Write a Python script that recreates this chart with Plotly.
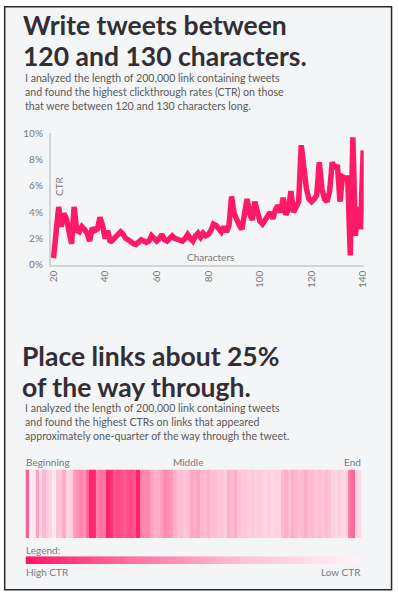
import plotly.graph_objects as go

W, H = 399, 598

# ---------------- data ----------------
characters = list(range(20, 141))
ctr_pct = [0.5, 2.5, 4.4, 2.9, 3.9, 3.5, 2.4, 1.6, 4.4, 2.6,
           2.5, 2.9, 2.7, 2.4, 1.8, 2.8, 2.6, 2.7, 3.6, 3.0,
           2.0, 2.6, 1.7, 1.9, 2.0, 2.3, 2.5, 2.3, 2.0, 1.9,
           1.7, 1.6, 1.55, 1.8, 1.9, 1.8, 1.7, 1.8, 2.2, 2.0,
           1.8, 2.0, 2.3, 1.9, 1.8, 2.0, 2.2, 2.0, 1.9, 1.8,
           1.8, 2.0, 2.3, 2.0, 1.8, 2.2, 2.4, 2.1, 2.4, 2.2,
           2.3, 2.6, 3.1, 3.0, 2.8, 2.5, 2.9, 2.5, 3.0, 5.2,
           3.9, 3.3, 3.0, 2.7, 3.8, 5.0, 3.9, 3.4, 4.8, 3.8,
           3.3, 3.1, 3.4, 3.8, 4.0, 3.5, 4.2, 4.5, 4.0, 5.1,
           3.8, 4.2, 5.6, 4.0, 4.5, 4.8, 9.1, 7.0, 5.8, 5.0,
           4.8, 5.0, 5.3, 7.8, 5.8, 5.0, 4.8, 5.6, 7.8, 7.3,
           7.6, 4.8, 6.7, 6.6, 6.6, 0.7, 9.7, 2.2, 4.4, 2.7,
           8.7]
x_ticks = [20, 40, 60, 80, 100, 120, 140]
y_ticks = [0, 2, 4, 6, 8, 10]
y_tick_labels = ["0%", "2%", "4%", "6%", "8%", "10%"]

# relative CTR by link position (0 = beginning ... 99 = end)
link_ctr = [75, 5, 10, 50, 20, 40, 28, 22, 8, 35,
            30, 45, 22, 28, 50, 55, 60, 55, 72, 95,
            92, 62, 68, 65, 95, 90, 78, 82, 80, 76,
            80, 82, 78, 95, 62, 58, 60, 48, 42, 45,
            50, 58, 55, 52, 42, 34, 38, 32, 36, 46,
            44, 48, 40, 38, 42, 36, 38, 30, 34, 28,
            42, 38, 44, 34, 30, 32, 27, 30, 25, 28,
            24, 22, 26, 20, 24, 22, 40, 42, 37, 44,
            40, 36, 39, 42, 37, 40, 35, 38, 33, 38,
            34, 24, 22, 26, 20, 24, 65, 72, 22, 20]
legend_levels = [100, 0]

PINK = "#ff1a66"
BG = "#f4f5f7"
DARK = "#322e34"
GREY = "#5a5a5a"
LIGHT = "#7a7a7a"
colorscale = [[0, "#fff5f8"], [0.35, "#ffc2d6"], [0.7, "#ff6d9e"], [1, "#ff1463"]]


def X(px):
    return px / W


def Y(py):
    return 1 - py / H


fig = go.Figure()

fig.add_trace(go.Scatter(
    x=characters, y=ctr_pct, mode="lines",
    line=dict(color=PINK, width=5.5), xaxis="x", yaxis="y",
    hoverinfo="skip", showlegend=False))

fig.add_trace(go.Heatmap(
    z=[link_ctr], xaxis="x2", yaxis="y2", colorscale=colorscale,
    zmin=0, zmax=100, showscale=False, hoverinfo="skip"))

fig.add_trace(go.Heatmap(
    z=[legend_levels], x=[0, 1], xaxis="x3", yaxis="y3",
    colorscale=colorscale, zmin=0, zmax=100, zsmooth="best",
    showscale=False, hoverinfo="skip"))

fig.update_layout(
    width=W, height=H, margin=dict(l=0, r=0, t=0, b=0),
    paper_bgcolor="white", plot_bgcolor="rgba(0,0,0,0)",
    font=dict(family="Lato", color=GREY),
    xaxis=dict(domain=[X(48), X(368)], range=[19, 140.2],
               tickvals=x_ticks, tickangle=-90, showgrid=False,
               zeroline=False, showline=True, linecolor="#d3d3d3",
               linewidth=2, ticks="", tickfont=dict(size=10, color=LIGHT),
               anchor="y"),
    yaxis=dict(domain=[Y(264), Y(130)], range=[0, 10],
               tickvals=y_ticks, ticktext=y_tick_labels, showgrid=False,
               zeroline=False, showline=True, linecolor="#d3d3d3",
               linewidth=2, ticks="", tickfont=dict(size=10, color=LIGHT),
               anchor="x", ticklabelstandoff=4),
    xaxis2=dict(domain=[X(22), X(366)], range=[-0.5, 99.5], visible=False, anchor="y2"),
    yaxis2=dict(domain=[Y(543), Y(473)], range=[-0.5, 0.5], visible=False, anchor="x2"),
    xaxis3=dict(domain=[X(22), X(366)], range=[0, 1], visible=False, anchor="y3"),
    yaxis3=dict(domain=[Y(569.5), Y(561.5)], range=[-0.5, 0.5], visible=False, anchor="x3"),
)

fig.add_shape(type="rect", xref="paper", yref="paper",
              x0=X(0.7), x1=X(396.5), y0=Y(595.8), y1=Y(0.7),
              fillcolor=BG, line=dict(color="#2a2a2a", width=1.5), layer="below")


def note(text, x, y, size, color, xanchor="left", weight=400, angle=0):
    fig.add_annotation(text=text, x=X(x), y=Y(y), xref="paper", yref="paper",
                       xanchor=xanchor, yanchor="middle", showarrow=False,
                       textangle=angle, borderpad=0, align="left",
                       font=dict(size=size, color=color, family="Lato", weight=weight))


note("Write tweets between", 18, 19.5, 26.5, DARK, weight=700)
note("120 and 130 characters.", 18, 51, 26.5, DARK, weight=700)
note("I analyzed the length of 200,000 link containing tweets<br>"
     "and found the highest clickthrough rates (CTR) on those<br>"
     "that were between 120 and 130 characters long.", 20, 87.5, 10.6, GREY)

note("CTR", 57, 184, 10, LIGHT, xanchor="center", angle=-90)
note("Characters", 211, 256.5, 10, LIGHT, xanchor="center")

note("Place links about 25%", 17, 357, 26.5, DARK, weight=700)
note("of the way through.", 17, 389, 26.5, DARK, weight=700)
note("I analyzed the length of 200,000 link containing tweets<br>"
     "and found the highest CTRs on links that appeared<br>"
     "approximately one-quarter of the way through the tweet.", 20, 425, 10.6, GREY)

note("Beginning", 21, 465, 10, LIGHT)
note("Middle", 188, 465, 10, LIGHT, xanchor="center")
note("End", 366, 465, 10, LIGHT, xanchor="right")
note("Legend:", 21, 555.5, 10, LIGHT)
note("High CTR", 21, 577.5, 10, LIGHT)
note("Low CTR", 366, 577.5, 10, LIGHT, xanchor="right")

fig.write_html("out.html", config={"displayModeBar": False},
               post_script="document.body.style.margin='0';document.body.style.overflow='hidden';")
